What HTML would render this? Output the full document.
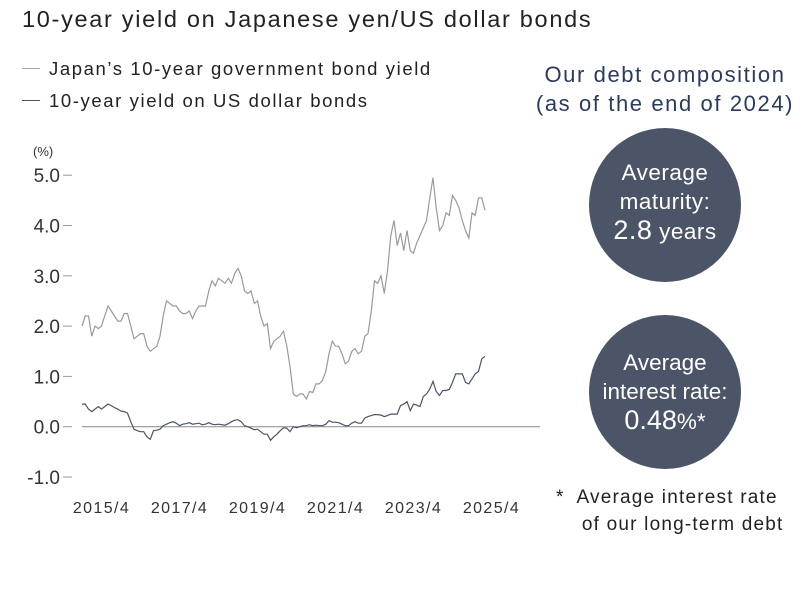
<!DOCTYPE html>
<html><head><meta charset="utf-8"><style>
body{margin:0;background:#fff;font-family:"Liberation Sans",sans-serif;}
#w{position:relative;width:800px;height:609px;overflow:hidden;}
.t{position:absolute;white-space:nowrap;color:#222;}
.c{position:absolute;width:152px;height:154px;border-radius:50%;background:#4b5567;color:#fff;text-align:center;}
</style></head><body><div id="w">
<div class="t" style="left:22px;top:6px;font-size:23.5px;letter-spacing:1.7px;">10-year yield on Japanese yen/US dollar bonds</div>
<div style="position:absolute;left:22px;top:68px;width:18px;height:1px;background:#aaa"></div>
<div class="t" style="left:49px;top:58px;font-size:18.5px;letter-spacing:1.6px;">Japan’s 10-year government bond yield</div>
<div style="position:absolute;left:22px;top:100px;width:18px;height:1px;background:#4b5567"></div>
<div class="t" style="left:49px;top:90px;font-size:18.5px;letter-spacing:1.6px;">10-year yield on US dollar bonds</div>
<div class="t" style="left:510px;top:60px;width:310px;text-align:center;font-size:22px;color:#2a3b5c;line-height:29px;letter-spacing:1.6px;">Our debt composition<br>(as of the end of 2024)</div>
<div class="c" style="left:589px;top:128px;"><div style="padding-top:30px;font-size:22.5px;line-height:29px;letter-spacing:0.5px;">Average<br>maturity:<br><span style="font-size:27px">2.8</span> years</div></div>
<div class="c" style="left:589px;top:315px;"><div style="padding-top:33px;font-size:22.5px;line-height:29px;">Average<br>interest rate:<br><span style="font-size:27px">0.48</span>%*</div></div>
<div class="t" style="left:556px;top:484px;font-size:19px;line-height:27px;letter-spacing:1.2px;">*&nbsp; Average interest rate<br>&nbsp;&nbsp;&nbsp; of our long-term debt</div>
<svg id="chart" width="800" height="609" style="position:absolute;left:0;top:0"></svg>
</div>
<script>
const yTicks=[5,4,3,2,1,0,-1];
const yTickLabels=["5.0","4.0","3.0","2.0","1.0","0.0","-1.0"];
const xTickLabels=["2015/4","2017/4","2019/4","2021/4","2023/4","2025/4"];
const xTickYears=[2015.25,2017.25,2019.25,2021.25,2023.25,2025.25];
const startYear=2014.75;
const usYield=[2.0,2.2,2.2,
1.8,2.0,1.95,2.0,2.2,2.4,2.3,2.2,2.1,2.1,2.25,2.25,
2.0,1.75,1.8,1.85,1.85,1.6,1.5,1.55,1.6,1.8,2.2,2.5,
2.45,2.4,2.4,2.3,2.25,2.25,2.3,2.15,2.3,2.4,2.4,2.4,
2.7,2.9,2.8,2.95,2.9,2.85,2.95,2.85,3.05,3.15,3.0,2.7,
2.65,2.7,2.45,2.5,2.2,2.0,2.05,1.55,1.7,1.75,1.8,1.9,
1.6,1.2,0.65,0.6,0.65,0.65,0.55,0.7,0.68,0.85,0.85,0.92,
1.1,1.45,1.7,1.6,1.6,1.45,1.25,1.3,1.5,1.55,1.45,1.5,
1.8,1.85,2.3,2.9,2.85,3.0,2.65,3.1,3.8,4.1,3.6,3.85,
3.5,3.9,3.5,3.45,3.65,3.8,3.95,4.1,4.55,4.95,4.35,3.9,
4.0,4.25,4.2,4.6,4.5,4.35,4.1,3.9,3.75,4.25,4.2,4.55,
4.55,4.3];
const jpYield=[0.45,0.45,0.35,
0.3,0.35,0.4,0.35,0.4,0.45,0.42,0.38,0.35,0.31,0.3,0.27,
0.1,-0.05,-0.08,-0.1,-0.1,-0.2,-0.25,-0.08,-0.07,-0.05,0.02,0.05,
0.08,0.1,0.07,0.02,0.05,0.06,0.08,0.05,0.06,0.07,0.04,0.05,
0.08,0.05,0.04,0.05,0.04,0.03,0.06,0.1,0.13,0.14,0.1,0.02,
0.0,-0.03,-0.06,-0.05,-0.1,-0.15,-0.15,-0.27,-0.2,-0.15,-0.08,-0.02,
-0.03,-0.1,0.0,-0.02,0.0,0.02,0.02,0.04,0.02,0.03,0.02,0.02,
0.05,0.12,0.09,0.09,0.08,0.05,0.02,0.02,0.07,0.1,0.07,0.07,
0.17,0.2,0.22,0.24,0.24,0.23,0.2,0.22,0.25,0.25,0.25,0.42,
0.45,0.5,0.32,0.45,0.43,0.4,0.6,0.65,0.75,0.9,0.7,0.62,
0.72,0.72,0.74,0.88,1.05,1.05,1.05,0.88,0.85,0.95,1.05,1.1,
1.35,1.4];
const NS="http://www.w3.org/2000/svg";
const svg=document.getElementById('chart');
const yS=v=>426.7-v*50.3;
const xS=yr=>82+(yr-startYear)*39;
function mk(t,a){const e=document.createElementNS(NS,t);for(const k in a)e.setAttribute(k,a[k]);svg.appendChild(e);return e;}
const unit=mk('text',{x:33,y:156,'font-size':13,fill:'#333'});unit.textContent='(%)';


yTicks.forEach((v,i)=>{
 const tl=mk('line',{x1:63,x2:72,y1:yS(v),y2:yS(v),stroke:'#999','stroke-width':1});
 
 
 const t=mk('text',{x:60,y:yS(v)+7,'font-size':19,fill:'#333','text-anchor':'end'});t.textContent=yTickLabels[i];
 
 
});
const zl=mk('line',{x1:82,x2:540,y1:yS(0),y2:yS(0),stroke:'#888','stroke-width':1});


xTickLabels.forEach((l,i)=>{
 const t=mk('text',{x:xS(xTickYears[i]),y:513,'font-size':16,fill:'#333','text-anchor':'middle','letter-spacing':'1.4'});t.textContent=l;
 
 
});
function series(arr,color,name){
 const d=arr.map((v,i)=>(i?'L':'M')+xS(startYear+i/12).toFixed(1)+','+yS(v).toFixed(1)).join('');
 const p=mk('path',{d:d,fill:'none',stroke:color,'stroke-width':1.2});
 
 
}
series(usYield,'#9a9a9a','us-yield-line');
series(jpYield,'#4b5567','japan-yield-line');
</script></body></html>
